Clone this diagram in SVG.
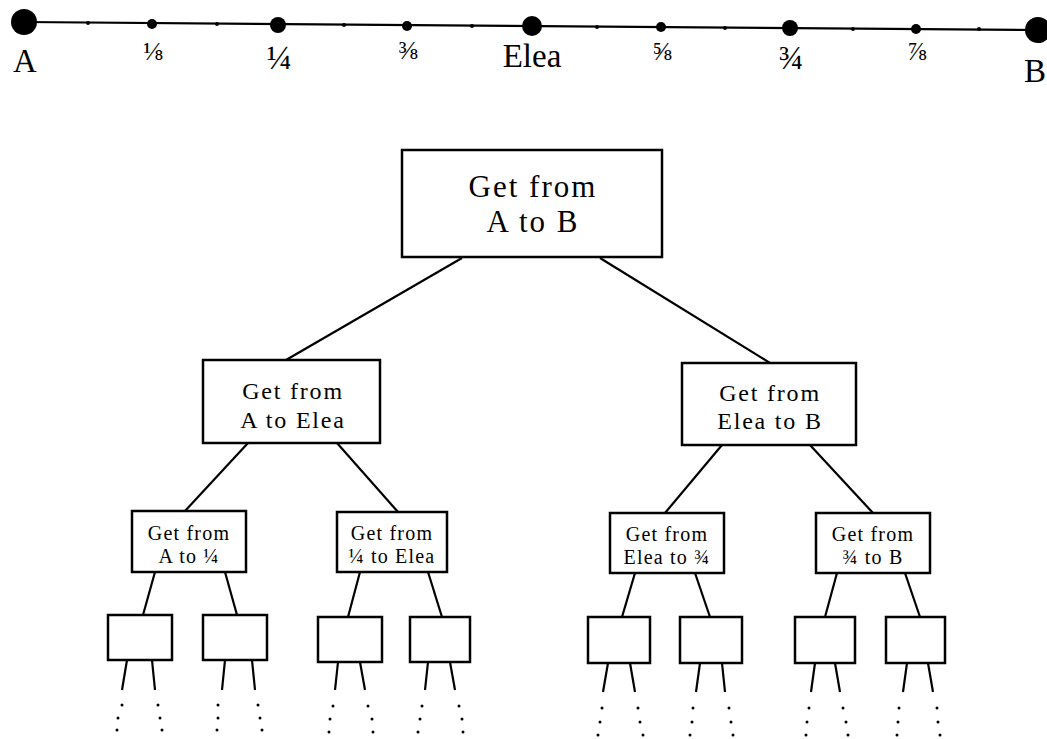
<svg xmlns="http://www.w3.org/2000/svg" width="1047" height="739" viewBox="0 0 1047 739">
<style>
text{font-family:"Liberation Serif","DejaVu Serif",serif;fill:#000;text-anchor:middle}
.box{fill:#fff;stroke:#000;stroke-width:2.5}
.ln{stroke:#000;stroke-width:2.2;fill:none}
.t1{font-size:31px;letter-spacing:2px}
.t2{font-size:24px;letter-spacing:1.8px}
.t3{font-size:20px;letter-spacing:1.2px}
.fs{font-size:26px}
.fm{font-size:33px}
.big{font-size:33px}
.dot{fill:#000}
</style>
<rect width="1047" height="739" fill="#fff"/>
<g id="scale">
<line class="ln" x1="24" y1="22" x2="1038" y2="30"/>
<circle class="dot" cx="24" cy="22" r="13"/>
<circle class="dot" cx="88" cy="23" r="2"/>
<circle class="dot" cx="152" cy="24" r="5"/>
<circle class="dot" cx="217" cy="24" r="2"/>
<circle class="dot" cx="278" cy="25" r="8"/>
<circle class="dot" cx="344" cy="25" r="2"/>
<circle class="dot" cx="407" cy="26" r="5"/>
<circle class="dot" cx="472" cy="26" r="2"/>
<circle class="dot" cx="532" cy="26" r="10"/>
<circle class="dot" cx="597" cy="27" r="2"/>
<circle class="dot" cx="661" cy="27" r="5"/>
<circle class="dot" cx="725" cy="28" r="2"/>
<circle class="dot" cx="790" cy="28" r="8"/>
<circle class="dot" cx="853" cy="29" r="2"/>
<circle class="dot" cx="916" cy="29" r="5"/>
<circle class="dot" cx="979" cy="29" r="2"/>
<circle class="dot" cx="1038" cy="30" r="13"/>
<text class="big" x="25" y="72">A</text>
<text class="fs" x="153" y="60">⅛</text>
<text class="fm" x="279" y="69">¼</text>
<text class="fs" x="408" y="59">⅜</text>
<text class="big" x="532" y="67">Elea</text>
<text class="fs" x="662" y="60">⅝</text>
<text class="fm" x="791" y="69">¾</text>
<text class="fs" x="917" y="60">⅞</text>
<text class="big" x="1046" y="82" style="text-anchor:end">B</text>
</g>
<g id="connectors">
<line class="ln" x1="462" y1="258" x2="286" y2="360"/>
<line class="ln" x1="600" y1="258" x2="770" y2="363"/>
<line class="ln" x1="248" y1="443" x2="185" y2="511"/>
<line class="ln" x1="337" y1="443" x2="398" y2="512"/>
<line class="ln" x1="722" y1="445" x2="665" y2="513"/>
<line class="ln" x1="810" y1="445" x2="873" y2="513"/>
<line class="ln" x1="155" y1="572" x2="143" y2="615"/>
<line class="ln" x1="225" y1="572" x2="237" y2="615"/>
<line class="ln" x1="360" y1="572" x2="348" y2="617"/>
<line class="ln" x1="428" y1="572" x2="442" y2="617"/>
<line class="ln" x1="635" y1="573" x2="622" y2="617"/>
<line class="ln" x1="695" y1="573" x2="710" y2="617"/>
<line class="ln" x1="837" y1="573" x2="825" y2="617"/>
<line class="ln" x1="905" y1="573" x2="920" y2="617"/>
<line class="ln" x1="127" y1="660" x2="122" y2="690"/>
<line class="ln" x1="152" y1="660" x2="155" y2="690"/>
<line class="ln" x1="225" y1="660" x2="222" y2="690"/>
<line class="ln" x1="252" y1="660" x2="255" y2="690"/>
<line class="ln" x1="338" y1="662" x2="335" y2="690"/>
<line class="ln" x1="360" y1="662" x2="365" y2="690"/>
<line class="ln" x1="428" y1="662" x2="425" y2="690"/>
<line class="ln" x1="450" y1="662" x2="455" y2="690"/>
<line class="ln" x1="608" y1="663" x2="603" y2="692"/>
<line class="ln" x1="630" y1="663" x2="635" y2="692"/>
<line class="ln" x1="700" y1="663" x2="696" y2="692"/>
<line class="ln" x1="722" y1="663" x2="725" y2="692"/>
<line class="ln" x1="815" y1="663" x2="811" y2="692"/>
<line class="ln" x1="835" y1="663" x2="840" y2="692"/>
<line class="ln" x1="907" y1="663" x2="903" y2="692"/>
<line class="ln" x1="928" y1="663" x2="933" y2="692"/>
</g>
<g id="ellipsis" class="dot">
<circle cx="122" cy="705" r="1.5"/><circle cx="118" cy="718" r="1.5"/><circle cx="117" cy="730" r="1.5"/>
<circle cx="158" cy="705" r="1.5"/><circle cx="160" cy="718" r="1.5"/><circle cx="162" cy="730" r="1.5"/>
<circle cx="218" cy="705" r="1.5"/><circle cx="218" cy="718" r="1.5"/><circle cx="217" cy="730" r="1.5"/>
<circle cx="258" cy="705" r="1.5"/><circle cx="260" cy="718" r="1.5"/><circle cx="262" cy="730" r="1.5"/>
<circle cx="333" cy="706" r="1.5"/><circle cx="330" cy="719" r="1.5"/><circle cx="329" cy="732" r="1.5"/>
<circle cx="368" cy="706" r="1.5"/><circle cx="372" cy="719" r="1.5"/><circle cx="373" cy="732" r="1.5"/>
<circle cx="422" cy="706" r="1.5"/><circle cx="420" cy="719" r="1.5"/><circle cx="418" cy="732" r="1.5"/>
<circle cx="459" cy="706" r="1.5"/><circle cx="462" cy="719" r="1.5"/><circle cx="463" cy="732" r="1.5"/>
<circle cx="602" cy="708" r="1.5"/><circle cx="600" cy="722" r="1.5"/><circle cx="598" cy="735" r="1.5"/>
<circle cx="638" cy="708" r="1.5"/><circle cx="640" cy="722" r="1.5"/><circle cx="643" cy="735" r="1.5"/>
<circle cx="693" cy="708" r="1.5"/><circle cx="692" cy="722" r="1.5"/><circle cx="690" cy="735" r="1.5"/>
<circle cx="729" cy="708" r="1.5"/><circle cx="731" cy="722" r="1.5"/><circle cx="733" cy="735" r="1.5"/>
<circle cx="809" cy="708" r="1.5"/><circle cx="807" cy="722" r="1.5"/><circle cx="806" cy="735" r="1.5"/>
<circle cx="843" cy="708" r="1.5"/><circle cx="846" cy="722" r="1.5"/><circle cx="848" cy="735" r="1.5"/>
<circle cx="899" cy="708" r="1.5"/><circle cx="898" cy="722" r="1.5"/><circle cx="897" cy="735" r="1.5"/>
<circle cx="937" cy="708" r="1.5"/><circle cx="938" cy="722" r="1.5"/><circle cx="940" cy="735" r="1.5"/>
</g>
<g id="n-root">
<rect class="box" x="402" y="150" width="260" height="107"/>
<text class="t1" x="533" y="197">Get from</text>
<text class="t1" x="533" y="232">A to B</text>
</g>
<g id="n-a-elea">
<rect class="box" x="203" y="360" width="177" height="83"/>
<text class="t2" x="293" y="399">Get from</text>
<text class="t2" x="293" y="428">A to Elea</text>
</g>
<g id="n-elea-b">
<rect class="box" x="682" y="363" width="174" height="82"/>
<text class="t2" x="770" y="401">Get from</text>
<text class="t2" x="770" y="429">Elea to B</text>
</g>
<g id="n-a-q1">
<rect class="box" x="132" y="511" width="114" height="61"/>
<text class="t3" x="189" y="540">Get from</text>
<text class="t3" x="189" y="563">A to ¼</text>
</g>
<g id="n-q1-elea">
<rect class="box" x="337" y="512" width="110" height="60"/>
<text class="t3" x="392" y="540">Get from</text>
<text class="t3" x="392" y="563">¼ to Elea</text>
</g>
<g id="n-elea-q3">
<rect class="box" x="610" y="513" width="114" height="60"/>
<text class="t3" x="667" y="541">Get from</text>
<text class="t3" x="667" y="564">Elea to ¾</text>
</g>
<g id="n-q3-b">
<rect class="box" x="816" y="513" width="114" height="60"/>
<text class="t3" x="873" y="541">Get from</text>
<text class="t3" x="873" y="564">¾ to B</text>
</g>
<g id="leaf1"><rect class="box" x="108" y="615" width="64" height="45"/></g>
<g id="leaf2"><rect class="box" x="203" y="615" width="64" height="45"/></g>
<g id="leaf3"><rect class="box" x="318" y="617" width="64" height="45"/></g>
<g id="leaf4"><rect class="box" x="410" y="617" width="60" height="45"/></g>
<g id="leaf5"><rect class="box" x="588" y="617" width="62" height="46"/></g>
<g id="leaf6"><rect class="box" x="680" y="617" width="62" height="46"/></g>
<g id="leaf7"><rect class="box" x="795" y="617" width="60" height="46"/></g>
<g id="leaf8"><rect class="box" x="886" y="617" width="59" height="46"/></g>
</svg>
